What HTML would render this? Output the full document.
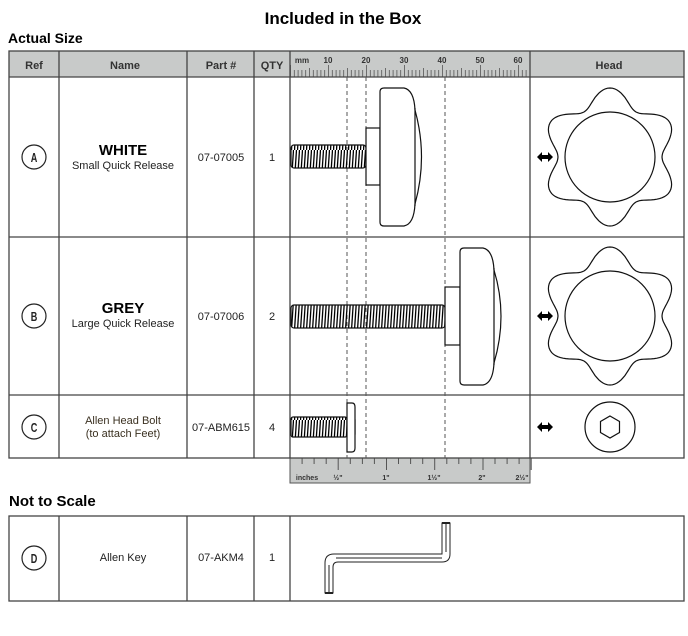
<!DOCTYPE html>
<html><head><meta charset="utf-8"><style>
body{margin:0;background:#fff;}
svg{display:block;font-family:"Liberation Sans",sans-serif;}
</style></head><body>
<svg id="s" width="688" height="636" viewBox="0 0 688 636" xmlns="http://www.w3.org/2000/svg">
<defs>
<pattern id="thr" x="0" y="0" width="3" height="30" patternUnits="userSpaceOnUse">
<line x1="2.5" y1="0" x2="0.5" y2="30" stroke="#000" stroke-width="1.3"/>
</pattern>
</defs>
<text x="343" y="24" text-anchor="middle" font-size="17" font-weight="bold" fill="#000">Included in the Box</text>
<text x="8" y="43" font-size="14" font-weight="bold" fill="#000">Actual Size</text>
<rect x="9" y="51" width="675" height="26" fill="#c8cac9"/>
<g fill="#333" font-size="11" font-weight="bold" text-anchor="middle">
<text x="34" y="69">Ref</text><text x="125" y="69">Name</text><text x="221" y="69">Part #</text><text x="272" y="69">QTY</text><text x="609" y="69">Head</text>
</g>
<g id="mm"></g>
<rect x="290" y="458" width="240" height="25" fill="#c8cac9" stroke="#555" stroke-width="1"/>
<g id="in"></g>
<g fill="#333" font-size="7" font-weight="bold" text-anchor="middle">
<text x="307" y="480">inches</text><text x="338" y="480">½"</text><text x="386" y="480">1"</text><text x="434" y="480">1½"</text><text x="482" y="480">2"</text><text x="522" y="480">2½"</text>
</g>
<g stroke="#444" stroke-width="1.3" fill="none">
<rect x="9" y="51" width="675" height="407"/>
<line x1="9" y1="77" x2="684" y2="77"/>
<line x1="9" y1="237" x2="684" y2="237"/>
<line x1="9" y1="395" x2="684" y2="395"/>
<line x1="59" y1="51" x2="59" y2="458"/>
<line x1="187" y1="51" x2="187" y2="458"/>
<line x1="254" y1="51" x2="254" y2="458"/>
<line x1="290" y1="51" x2="290" y2="458"/>
<line x1="530" y1="51" x2="530" y2="458"/>
</g>
<g stroke="#555" stroke-width="1" stroke-dasharray="4,3">
<line x1="347" y1="77" x2="347" y2="458"/><line x1="366" y1="77" x2="366" y2="458"/><line x1="445" y1="77" x2="445" y2="458"/>
</g>
<g fill="none" stroke="#222" stroke-width="1.2">
<circle cx="34" cy="157" r="12"/><circle cx="34" cy="316" r="12"/><circle cx="34" cy="427" r="12"/><circle cx="34" cy="558" r="12"/>
</g>
<g font-weight="bold" font-size="13" text-anchor="middle" fill="#222">
<text x="34" y="162" transform="translate(34 0) scale(0.7 1) translate(-34 0)">A</text>
<text x="34" y="321" transform="translate(34 0) scale(0.7 1) translate(-34 0)">B</text>
<text x="34" y="432" transform="translate(34 0) scale(0.7 1) translate(-34 0)">C</text>
<text x="34" y="563" transform="translate(34 0) scale(0.7 1) translate(-34 0)">D</text>
</g>
<g fill="#222" text-anchor="middle" font-size="11">
<text x="123" y="155" font-size="15" font-weight="bold" fill="#000">WHITE</text>
<text x="123" y="169">Small Quick Release</text>
<text x="123" y="313" font-size="15" font-weight="bold" fill="#000">GREY</text>
<text x="123" y="327">Large Quick Release</text>
<text x="123" y="424" fill="#3a3020">Allen Head Bolt</text>
<text x="123" y="437" fill="#3a3020">(to attach Feet)</text>
<text x="221" y="161">07-07005</text><text x="272" y="161">1</text>
<text x="221" y="320">07-07006</text><text x="272" y="320">2</text>
<text x="221" y="431">07-ABM615</text><text x="272" y="431">4</text>
<text x="123" y="561">Allen Key</text>
<text x="221" y="561">07-AKM4</text><text x="272" y="561">1</text>
</g>
<g stroke="#111" stroke-width="1.2">
<rect x="291" y="145" width="75" height="23" rx="3" fill="url(#thr)"/>
<rect x="366" y="128" width="14" height="57" fill="#fff"/>
<path d="M380 92 Q380 88 384 88 L404 88 Q414 90 415 110 Q428 157 415 204 Q414 224 404 226 L384 226 Q380 226 380 222 Z" fill="#fff"/>
<line x1="415" y1="108" x2="415" y2="206"/>
<rect x="291" y="305" width="154" height="23" rx="3" fill="url(#thr)"/>
<rect x="445" y="287" width="15" height="58" fill="#fff"/>
<path d="M460 252 Q460 248 464 248 L483 248 Q493 250 494 270 Q508 316 494 363 Q493 383 483 385 L464 385 Q460 385 460 381 Z" fill="#fff"/>
<line x1="494" y1="268" x2="494" y2="365"/>
<rect x="291" y="417" width="56" height="20" rx="2" fill="url(#thr)"/>
<rect x="347" y="420" width="8" height="14" fill="#fff"/>
<path d="M347 403 L352 403 Q355 403 355 407 L355 448 Q355 452 352 452 L347 452 Z" fill="#fff"/>
</g>
<g fill="none" stroke="#111" stroke-width="1.2">
<path id="st1"/><path id="st2"/>
<circle cx="610" cy="157" r="45"/><circle cx="610" cy="316" r="45"/>
<circle cx="610" cy="427" r="25"/>
<polygon points="610,416 619.5,421.5 619.5,432.5 610,438 600.5,432.5 600.5,421.5"/>
</g>
<g fill="#000">
<path d="M537 157 l5 -5 v3 h6 v-3 l5 5 l-5 5 v-3 h-6 v3 z"/>
<path d="M537 316 l5 -5 v3 h6 v-3 l5 5 l-5 5 v-3 h-6 v3 z"/>
<path d="M537 427 l5 -5 v3 h6 v-3 l5 5 l-5 5 v-3 h-6 v3 z"/>
</g>
<text x="9" y="506" font-size="15" font-weight="bold" fill="#000">Not to Scale</text>
<g stroke="#444" stroke-width="1.3" fill="none">
<rect x="9" y="516" width="675" height="85"/>
<line x1="59" y1="516" x2="59" y2="601"/><line x1="187" y1="516" x2="187" y2="601"/>
<line x1="254" y1="516" x2="254" y2="601"/><line x1="290" y1="516" x2="290" y2="601"/>
</g>
<g fill="none" stroke="#222" stroke-width="1">
<path d="M325 593 L325 563 Q325 554 334 554 L442 554 Q442 554 442 550 L442 523 L450 523 L450 554 Q450 562 442 562 L338 562 Q333 562 333 567 L333 593 Z" fill="#fff"/>
<line x1="329" y1="593" x2="329" y2="565"/><line x1="336" y1="558" x2="442" y2="558"/><line x1="446" y1="523" x2="446" y2="552"/>
<line x1="325" y1="593" x2="333" y2="593" stroke-width="2"/><line x1="442" y1="523" x2="450" y2="523" stroke-width="2"/>
</g>
</svg>
<script>
(function(){
var ns="http://www.w3.org/2000/svg";
function star(cx,cy){var d="";for(var i=0;i<=360;i+=2){var t=i*Math.PI/180;var c=Math.cos(6*(t+Math.PI/2));var r=60.5+8.5*c;var x=cx+r*Math.cos(t),y=cy+r*Math.sin(t);d+=(i?"L":"M")+x.toFixed(1)+" "+y.toFixed(1);}return d+"Z";}
document.getElementById("st1").setAttribute("d",star(610,157));
document.getElementById("st2").setAttribute("d",star(610,316));
var mm=document.getElementById("mm"),s="";
for(var i=0;i<=63;i++){var x=290.5+i*3.8;var h=(i%10==0)?12:(i%5==0?9:7);s+="M"+x.toFixed(1)+" "+(77-h)+"V77";}
var p=document.createElementNS(ns,"path");p.setAttribute("d",s);p.setAttribute("stroke","#555");p.setAttribute("stroke-width","0.8");mm.appendChild(p);
var lab=[["mm",302],["10",328],["20",366],["30",404],["40",442],["50",480],["60",518]];
lab.forEach(function(l){var t=document.createElementNS(ns,"text");t.setAttribute("x",l[1]);t.setAttribute("y",63);t.setAttribute("font-size","8");t.setAttribute("font-weight","bold");t.setAttribute("fill","#333");t.setAttribute("text-anchor","middle");t.textContent=l[0];mm.appendChild(t);});
var inn=document.getElementById("in"),s2="";
for(var j=1;j<=20;j++){var x=290+j*12.06;var h=(j%4==0)?12:6;s2+="M"+x.toFixed(1)+" 458V"+(458+h);}
var q=document.createElementNS(ns,"path");q.setAttribute("d",s2);q.setAttribute("stroke","#555");q.setAttribute("stroke-width","1");inn.appendChild(q);
})();
</script>
</body></html>
